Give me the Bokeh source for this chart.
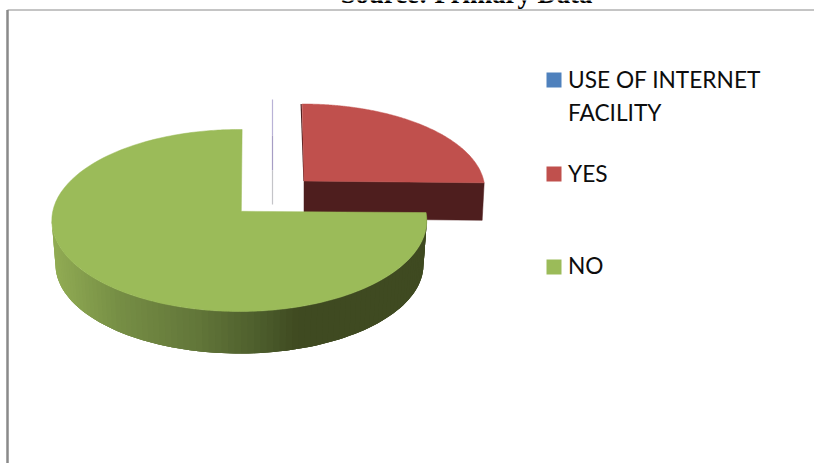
import numpy as np
from bokeh.core.properties import value
from bokeh.embed import file_html
from bokeh.models import Range1d
from bokeh.plotting import figure
from bokeh.resources import INLINE

# Survey responses, percent of respondents
categories = ["USE OF INTERNET FACILITY", "YES", "NO"]
shares = [0, 25, 75]
colors = ["#4F81BD", "#C0504D", "#9BBB59"]
legend_lines = [["USE OF INTERNET", "FACILITY"], ["YES"], ["NO"]]
legend_baselines = [[78.8, 112.2], [172.9], [265.3]]
legend_box_tops = [72, 166, 259]
caption = "Source: Primary Data"

# Placement of each exploded slice in the tilted pie, in page pixels
apexes = {"YES": (303.5, 180.5), "NO": (240.8, 210.8)}
ellipses = {"YES": (302.3, 189.5, 182.0, 86.0), "NO": (238.8, 220.0, 187.5, 91.0)}
skews = {"YES": (-0.024, 0.010), "NO": (0.010, 0.007)}
floor_ellipse = (239.0, 264.0, 184.0, 89.0)
red_depth = 37.5

# Shading of the rim from the lit side to the shadow side
ramp_x = [50, 120, 200, 270, 300, 430]
ramp_rgb = [(146, 173, 84), (118, 142, 69), (98, 118, 57), (74, 90, 42), (63, 74, 33), (63, 74, 33)]


def ray_hit(name, angle):
    """Where the ray at a pie angle (clockwise from 12 o'clock) meets the slice's ellipse."""
    ax, ay = apexes[name]
    cx, cy, rx, ry = ellipses[name]
    skew, tilt = skews[name]
    dx = np.sin(angle) + skew * np.cos(angle)
    dy = -np.cos(angle) + tilt * np.sin(angle)
    px, py = (ax - cx) / rx, (ay - cy) / ry
    qx, qy = dx / rx, dy / ry
    a, b, c = qx**2 + qy**2, 2 * (px * qx + py * qy), px**2 + py**2 - 1
    s = (-b + np.sqrt(b**2 - 4 * a * c)) / (2 * a)
    return ax + s * dx, ay + s * dy


def slice_outline(name, start, end):
    angles = np.linspace(start, end, 180)
    pts = [ray_hit(name, t) for t in angles]
    ax, ay = apexes[name]
    return [ax] + [q[0] for q in pts], [ay] + [q[1] for q in pts]


edges = np.cumsum([0] + shares) / 100 * 2 * np.pi
span = {c: (edges[i], edges[i + 1]) for i, c in enumerate(categories)}

p = figure(
    width=814, height=463, x_range=Range1d(0, 814), y_range=Range1d(463, 0),
    output_backend="svg", toolbar_location=None, min_border=0,
    background_fill_color="white", border_fill_color="white",
)
p.axis.visible = False
p.grid.visible = False
p.outline_line_color = None

# Frame of the embedded chart object
p.line([7, 7], [463, 9.5], line_color="#8a8a8a", line_width=2.5)
p.line([7, 814], [9.5, 9.5], line_color="#8a8a8a", line_width=1)

# Caption running off the top edge of the page
p.text([466], [-7], text=[caption], text_font=value("Liberation Serif"), text_font_style="bold",
       text_font_size="26.7px", text_align="center", text_baseline="alphabetic", text_color="#000000")

# Zero-share slice collapses to a hairline
zero_x = 272
zero_stops = [99, 135, 170, 204]
zero_colors = ["#b9b2d6", "#a69dc4", "#c4c4c8"]
for k, col in enumerate(zero_colors):
    p.line([zero_x, zero_x], zero_stops[k:k + 2], line_color=col, line_width=1.2)

# YES slice: rim first, then the top face
sx, sy = ray_hit("YES", span["YES"][1])
ax, ay = apexes["YES"]
p.patch([ax, sx, sx - 2, ax], [ay, sy, sy + red_depth, ay + red_depth],
        fill_color="#4E1E1E", line_color="#4E1E1E", line_width=0.5)
xs, ys = slice_outline("YES", *span["YES"])
p.line([xs[1] - 1, ax], [ys[1], ay], line_color="#4E1E1E", line_width=1.2)
p.patch(xs, ys, fill_color=colors[1], line_color=colors[1], line_width=0.5)

# NO slice: shaded rim built from overlapping strips around the front of the ellipse
cx, cy, rx, ry = ellipses["NO"]
fx, fy, frx, fry = floor_ellipse
params = np.radians(np.linspace(85, 270, 93))
strip_xs, strip_ys, strip_cols = [], [], []
for i in range(len(params) - 1):
    sweep = params[i:i + 4]
    qx = list(cx + rx * np.sin(sweep)) + list(fx + frx * np.sin(sweep[::-1]))
    qy = list(cy - ry * np.cos(sweep)) + list(fy - fry * np.cos(sweep[::-1]))
    mid = cx + rx * np.sin(params[i])
    rgb = [int(round(np.interp(mid, ramp_x, [c[j] for c in ramp_rgb]))) for j in range(3)]
    strip_xs.append(qx)
    strip_ys.append(qy)
    strip_cols.append("#%02x%02x%02x" % tuple(rgb))
p.patches(strip_xs, strip_ys, fill_color=strip_cols, line_color=None)

xs, ys = slice_outline("NO", *span["NO"])
p.patch(xs, ys, fill_color=colors[2], line_color=colors[2], line_width=0.5)

# Legend
for box_top, col, lines, bases in zip(legend_box_tops, colors, legend_lines, legend_baselines):
    p.quad(left=[546], right=[561], top=[box_top], bottom=[box_top + 15], fill_color=col, line_color=None)
    p.text([567.5] * len(lines), bases, text=lines, text_font=value("Lato"), text_font_size="22.7px",
           text_baseline="alphabetic", text_align="left", text_color="#0d0d0d")

open("out.html", "w").write(file_html(p, INLINE))
